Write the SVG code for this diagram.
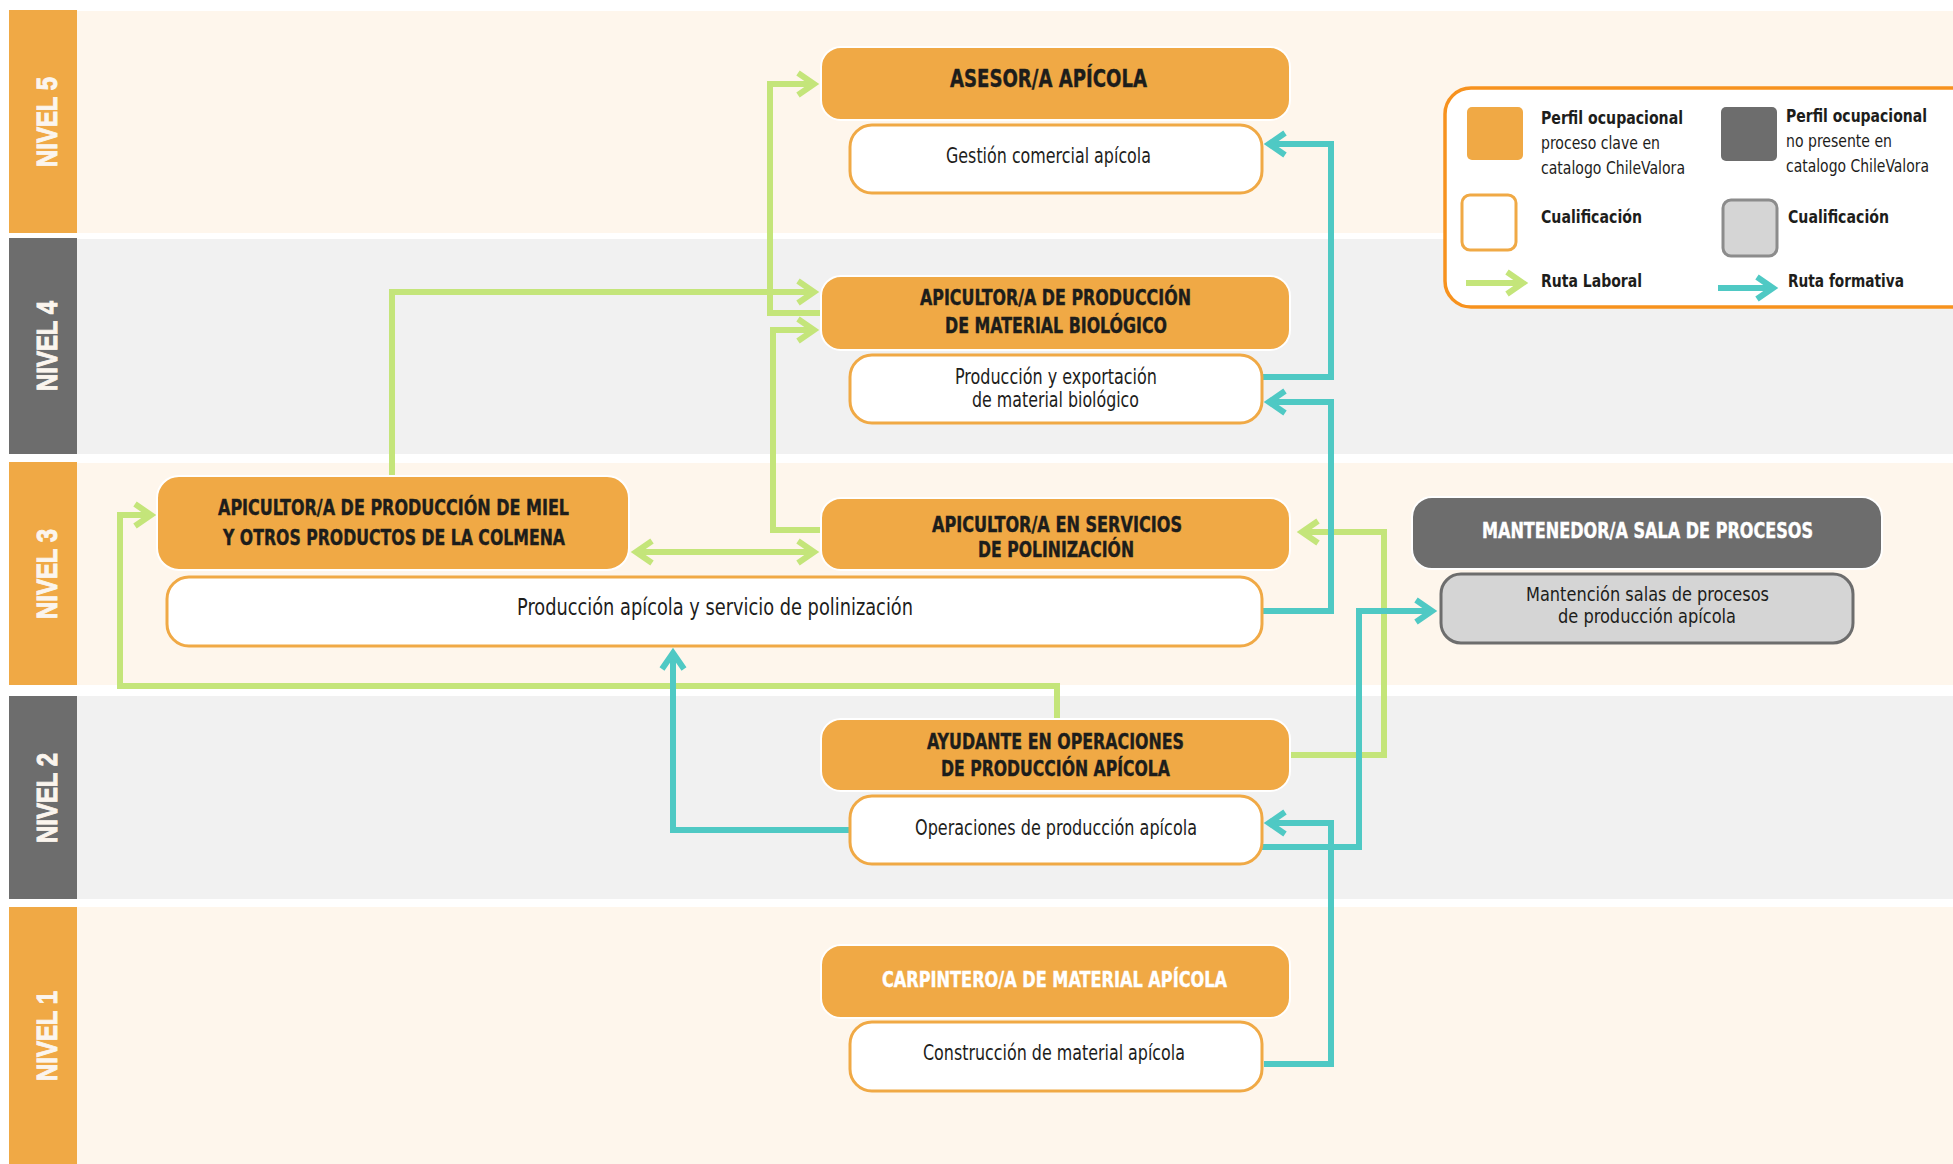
<svg xmlns="http://www.w3.org/2000/svg" width="1953" height="1164" viewBox="0 0 1953 1164">
<defs>
<style>
.bandO{fill:#FEF6EC}
.bandG{fill:#F1F1F1}
.labO{fill:#F0A945}
.labG{fill:#6D6D6D}
.lvl{font-family:"Liberation Sans","DejaVu Sans",sans-serif;font-weight:bold;font-size:30px;fill:#FBF5EE;stroke:#FBF5EE;stroke-width:1}
.node{fill:#F0A945;stroke:#FFFFFF;stroke-width:2}
.nodeG{fill:#6D6D6D;stroke:#FFFFFF;stroke-width:2}
.qual{fill:#FFFFFF;stroke:#F0A945;stroke-width:3}
.qualG{fill:#D5D5D5;stroke:#6D6D6D;stroke-width:3}
.t{font-family:"Liberation Sans Narrow","DejaVu Sans Condensed","Liberation Sans",sans-serif;fill:#1D1D1B}
.tb{font-family:"Liberation Sans Narrow","DejaVu Sans Condensed","Liberation Sans",sans-serif;font-weight:bold;font-size:21px;fill:#1D1D1B;stroke:#1D1D1B;stroke-width:0.4}
.tw{fill:#FFFFFF;stroke:#FFFFFF}
.q{font-size:22px}
.gr{fill:none;stroke:#C4E57A;stroke-width:6}
.te{fill:none;stroke:#4FC9C4;stroke-width:6}
.lg{font-family:"Liberation Sans Narrow","DejaVu Sans Condensed","Liberation Sans",sans-serif;font-size:18px;fill:#1D1D1B}
.lgb{font-weight:bold}
</style>
<marker id="ag" markerUnits="userSpaceOnUse" markerWidth="40" markerHeight="40" viewBox="-25 -20 40 40" refX="0" refY="0" orient="auto-start-reverse" overflow="visible">
<path d="M-16,-11 L0,0 L-16,11" fill="none" stroke="#C4E57A" stroke-width="6"/>
</marker>
<marker id="at" markerUnits="userSpaceOnUse" markerWidth="40" markerHeight="40" viewBox="-25 -20 40 40" refX="0" refY="0" orient="auto-start-reverse" overflow="visible">
<path d="M-16,-11 L0,0 L-16,11" fill="none" stroke="#4FC9C4" stroke-width="6"/>
</marker>
</defs>
<rect x="0" y="0" width="1953" height="1164" fill="#FFFFFF"/>

<g id="levels">
<rect class="bandO" x="77" y="11" width="1876" height="222"/>
<rect class="bandG" x="77" y="239" width="1876" height="215"/>
<rect class="bandO" x="77" y="463" width="1876" height="222"/>
<rect class="bandG" x="77" y="696" width="1876" height="203"/>
<rect class="bandO" x="77" y="907" width="1876" height="257"/>
<rect class="labO" x="9" y="10" width="68" height="223"/>
<rect class="labG" x="9" y="238" width="68" height="216"/>
<rect class="labO" x="9" y="462" width="68" height="223"/>
<rect class="labG" x="9" y="696" width="68" height="203"/>
<rect class="labO" x="9" y="907" width="68" height="257"/>
<text class="lvl" transform="translate(57,122) rotate(-90)" text-anchor="middle" textLength="90" lengthAdjust="spacingAndGlyphs">NIVEL 5</text>
<text class="lvl" transform="translate(57,346) rotate(-90)" text-anchor="middle" textLength="90" lengthAdjust="spacingAndGlyphs">NIVEL 4</text>
<text class="lvl" transform="translate(57,574) rotate(-90)" text-anchor="middle" textLength="90" lengthAdjust="spacingAndGlyphs">NIVEL 3</text>
<text class="lvl" transform="translate(57,798) rotate(-90)" text-anchor="middle" textLength="90" lengthAdjust="spacingAndGlyphs">NIVEL 2</text>
<text class="lvl" transform="translate(57,1036) rotate(-90)" text-anchor="middle" textLength="90" lengthAdjust="spacingAndGlyphs">NIVEL 1</text>
</g>

<g id="connectors">
<path class="gr" d="M821,313 H770 V84 H814" marker-end="url(#ag)"/>
<path class="gr" d="M392,476 V292 H814" marker-end="url(#ag)"/>
<path class="gr" d="M821,530 H773 V330 H814" marker-end="url(#ag)"/>
<path class="gr" d="M636,552 H814" marker-start="url(#ag)" marker-end="url(#ag)"/>
<path class="gr" d="M1057,719 V686 H120 V515 H151" marker-end="url(#ag)"/>
<path class="gr" d="M1290,755 H1384 V532 H1302" marker-end="url(#ag)"/>
<path class="te" d="M1262,377 H1331 V144 H1269" marker-end="url(#at)"/>
<path class="te" d="M1262,611 H1331 V402 H1269" marker-end="url(#at)"/>
<path class="te" d="M849,830 H673 V653" marker-end="url(#at)"/>
<path class="te" d="M1262,847 H1359 V611 H1432" marker-end="url(#at)"/>
<path class="te" d="M1264,1064 H1331 V823 H1269" marker-end="url(#at)"/>
</g>

<g id="asesor">
<rect class="node" x="821" y="47" width="469" height="73" rx="20"/>
<text class="tb" x="950" y="87" textLength="197" lengthAdjust="spacingAndGlyphs" style="font-size:24px">ASESOR/A APÍCOLA</text>
</g>
<g id="q-gestion">
<rect class="qual" x="850" y="125" width="412" height="68" rx="22"/>
<text class="t q" x="946" y="163" textLength="205" lengthAdjust="spacingAndGlyphs">Gestión comercial apícola</text>
</g>

<g id="matbio">
<rect class="node" x="821" y="276" width="469" height="74" rx="20"/>
<text class="tb" x="920" y="305" textLength="271" lengthAdjust="spacingAndGlyphs">APICULTOR/A DE PRODUCCIÓN</text>
<text class="tb" x="945" y="333" textLength="222" lengthAdjust="spacingAndGlyphs">DE MATERIAL BIOLÓGICO</text>
</g>
<g id="q-exportacion">
<rect class="qual" x="850" y="355" width="412" height="68" rx="22"/>
<text class="t q" x="955" y="384" textLength="202" lengthAdjust="spacingAndGlyphs">Producción y exportación</text>
<text class="t q" x="972" y="407" textLength="167" lengthAdjust="spacingAndGlyphs">de material biológico</text>
</g>

<g id="miel">
<rect class="node" x="157" y="476" width="472" height="94" rx="22"/>
<text class="tb" x="218" y="515" textLength="351" lengthAdjust="spacingAndGlyphs">APICULTOR/A DE PRODUCCIÓN DE MIEL</text>
<text class="tb" x="223" y="545" textLength="342" lengthAdjust="spacingAndGlyphs">Y OTROS PRODUCTOS DE LA COLMENA</text>
</g>
<g id="polinizacion">
<rect class="node" x="821" y="498" width="469" height="72" rx="20"/>
<text class="tb" x="932" y="532" textLength="250" lengthAdjust="spacingAndGlyphs">APICULTOR/A EN SERVICIOS</text>
<text class="tb" x="978" y="557" textLength="156" lengthAdjust="spacingAndGlyphs">DE POLINIZACIÓN</text>
</g>
<g id="q-produccion">
<rect class="qual" x="167" y="577" width="1095" height="69" rx="22"/>
<text class="t" x="517" y="615" style="font-size:23px" textLength="396" lengthAdjust="spacingAndGlyphs">Producción apícola y servicio de polinización</text>
</g>

<g id="mantenedor">
<rect class="nodeG" x="1412" y="497" width="470" height="72" rx="20"/>
<text class="tb tw" x="1482" y="538" textLength="331" lengthAdjust="spacingAndGlyphs">MANTENEDOR/A SALA DE PROCESOS</text>
</g>
<g id="q-mantencion">
<rect class="qualG" x="1441" y="574" width="412" height="69" rx="20"/>
<text class="t" x="1526" y="601" style="font-size:20px" textLength="243" lengthAdjust="spacingAndGlyphs">Mantención salas de procesos</text>
<text class="t" x="1558" y="623" style="font-size:20px" textLength="178" lengthAdjust="spacingAndGlyphs">de producción apícola</text>
</g>

<g id="ayudante">
<rect class="node" x="821" y="719" width="469" height="72" rx="20"/>
<text class="tb" x="927" y="749" textLength="257" lengthAdjust="spacingAndGlyphs">AYUDANTE EN OPERACIONES</text>
<text class="tb" x="941" y="776" textLength="229" lengthAdjust="spacingAndGlyphs">DE PRODUCCIÓN APÍCOLA</text>
</g>
<g id="q-operaciones">
<rect class="qual" x="850" y="796" width="412" height="68" rx="22"/>
<text class="t q" x="915" y="835" textLength="282" lengthAdjust="spacingAndGlyphs">Operaciones de producción apícola</text>
</g>

<g id="carpintero">
<rect class="node" x="821" y="945" width="469" height="73" rx="20"/>
<text class="tb tw" x="882" y="987" textLength="345" lengthAdjust="spacingAndGlyphs">CARPINTERO/A DE MATERIAL APÍCOLA</text>
</g>
<g id="q-construccion">
<rect class="qual" x="850" y="1022" width="412" height="69" rx="22"/>
<text class="t q" x="923" y="1060" textLength="262" lengthAdjust="spacingAndGlyphs">Construcción de material apícola</text>
</g>

<g id="legend">
<rect x="1445" y="88" width="540" height="219" rx="26" fill="#FFFFFF" stroke="#F7921E" stroke-width="3.5"/>
<rect x="1467" y="107" width="56" height="53" rx="5" fill="#F0A945"/>
<rect x="1721" y="107" width="56" height="54" rx="5" fill="#6D6D6D"/>
<rect x="1462" y="195" width="54" height="55" rx="8" fill="#FFFFFF" stroke="#F0A945" stroke-width="3"/>
<rect x="1723" y="200" width="54" height="56" rx="8" fill="#D5D5D5" stroke="#8C8C8C" stroke-width="3"/>
<text class="lg lgb" x="1541" y="124" textLength="142" lengthAdjust="spacingAndGlyphs">Perfil ocupacional</text>
<text class="lg" x="1541" y="149" textLength="119" lengthAdjust="spacingAndGlyphs">proceso clave en</text>
<text class="lg" x="1541" y="174" textLength="144" lengthAdjust="spacingAndGlyphs">catalogo ChileValora</text>
<text class="lg lgb" x="1786" y="122" textLength="141" lengthAdjust="spacingAndGlyphs">Perfil ocupacional</text>
<text class="lg" x="1786" y="147" textLength="106" lengthAdjust="spacingAndGlyphs">no presente en</text>
<text class="lg" x="1786" y="172" textLength="143" lengthAdjust="spacingAndGlyphs">catalogo ChileValora</text>
<text class="lg lgb" x="1541" y="223" textLength="101" lengthAdjust="spacingAndGlyphs">Cualificación</text>
<text class="lg lgb" x="1788" y="223" textLength="101" lengthAdjust="spacingAndGlyphs">Cualificación</text>
<text class="lg lgb" x="1541" y="287" textLength="101" lengthAdjust="spacingAndGlyphs">Ruta Laboral</text>
<text class="lg lgb" x="1788" y="287" textLength="116" lengthAdjust="spacingAndGlyphs">Ruta formativa</text>
<path class="gr" d="M1466,283 H1523" marker-end="url(#ag)"/>
<path class="te" d="M1718,288 H1773" marker-end="url(#at)"/>
</g>
</svg>
